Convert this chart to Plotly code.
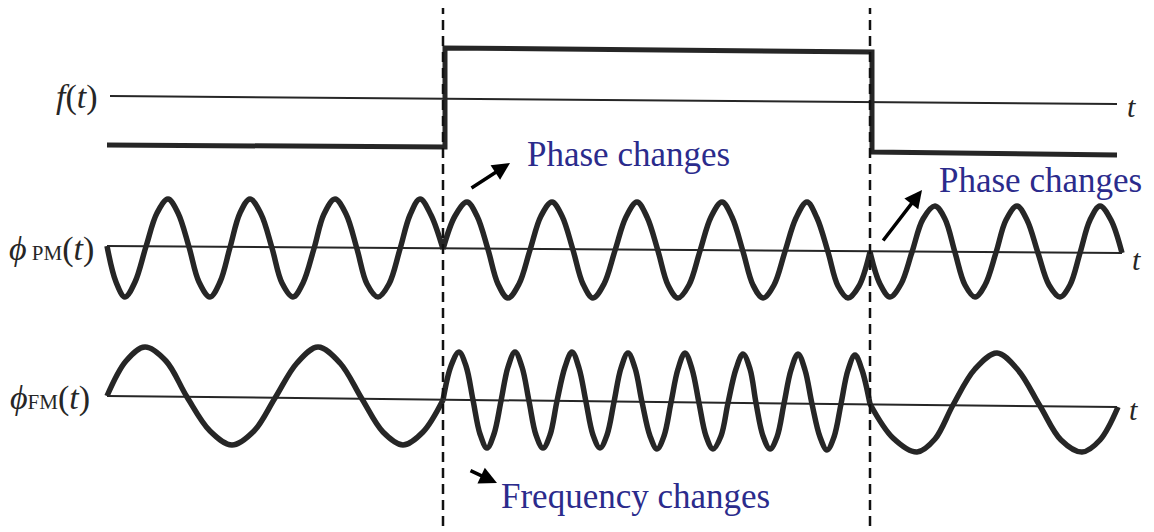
import plotly.graph_objects as go

# ---- data (pixel-like time/amplitude units) ----
# message f(t): square pulse
f_t = [107, 445, 445, 872, 872, 1117]
f_v = [145, 147, 48, 52, 152, 155]

# baselines (t axes)
f_axis_t = [110, 1117]
f_axis_v = [96, 104]
pm_axis_t = [107, 1122]
pm_axis_v = [246, 253]
fm_axis_t = [107, 1117]
fm_axis_v = [396, 407]

# PM waveform points, three segments (phase jumps at the edges)
pm1_t = [107, 116, 125, 135, 146, 157, 168, 178, 189, 199, 210, 220, 230, 240, 250, 261,
         272, 282, 293, 303, 314, 324, 335, 346, 357, 367, 378, 389, 400, 410, 420, 431, 443]
pm1_v = [246, 282, 297, 282, 246.5, 213, 199, 213, 247, 282, 297, 282, 247.5, 213, 199, 214,
         248, 283, 297, 283, 248.5, 214, 199, 214, 249, 284, 297, 284, 249, 215, 199, 215, 249]
pm2_t = [443, 455, 467, 477, 488, 498, 508, 519, 530, 541, 552, 562, 573, 583, 593, 604,
         615, 626, 637, 647, 658, 668, 678, 689, 700, 711, 722, 732, 743, 753, 763, 774,
         785, 796, 807, 817, 828, 838, 848, 859, 870]
pm2_v = [249, 216, 202, 216, 249.5, 284, 298, 284, 250, 216, 202, 216, 250, 284, 298, 284,
         250.5, 217, 202, 217, 251, 285, 298, 285, 251, 217, 202, 217, 251.5, 285, 298, 285,
         251.5, 218, 202, 218, 252, 286, 298, 286, 252]
pm3_t = [870, 880, 890, 901, 912, 923, 935, 945, 955, 965, 975, 985, 996, 1006, 1017, 1027,
         1038, 1049, 1060, 1070, 1080, 1090, 1100, 1111, 1122]
pm3_v = [252, 284, 297, 284, 252, 219, 206, 219, 252.5, 285, 297, 285, 252.5, 220, 206, 220,
         253, 285, 297, 285, 253, 220, 206, 220, 253]

# FM waveform points (continuous phase)
fm1_t = [107, 126, 145, 166, 187, 210, 232, 254, 275, 297, 318, 340, 362, 383, 403, 423, 443]
fm1_v = [396, 361, 347, 361, 397, 431, 445, 431, 398, 363, 347, 363, 399, 432, 445, 432, 400]
fm2_t = [443, 451, 459, 466, 473, 480, 487, 494, 501, 508, 515, 522, 529, 536, 543, 550,
         557, 565, 572, 579, 586, 593, 600, 607, 614, 621, 628, 635, 642, 650, 657, 664,
         671, 678, 685, 692, 699, 706, 713, 721, 728, 736, 743, 750, 756, 763, 770, 777,
         784, 791, 798, 805, 812, 820, 827, 834, 841, 848, 855, 862, 870]
fm2_v = [400, 366, 352, 366, 400, 434, 448, 434, 401, 367, 352, 367, 401, 435, 448, 435,
         401, 367, 352, 368, 402, 435, 448, 435, 402, 368, 353, 368, 402, 436, 449, 436,
         402.5, 369, 353, 369, 403, 436, 449, 436, 403, 369, 354, 369, 403, 436, 449, 437,
         403.5, 370, 354, 370, 404, 437, 450, 437, 404, 370, 355, 370, 404]
fm3_t = [870, 893, 917, 935, 953, 975, 997, 1018, 1040, 1061, 1082, 1100, 1118]
fm3_v = [404, 438, 452, 439, 405, 369, 353, 370, 406, 440, 452, 440, 407]

# dashed markers of the pulse edges
edge_t = [443, 870]

# annotations
notes = ["Phase changes", "Phase changes", "Frequency changes"]
note_t = [628, 1040, 635]
note_v = [154, 180, 496]
arrow_tail_t = [470, 882, 469]
arrow_tail_v = [189, 242, 470]
arrow_head_t = [510, 922, 497]
arrow_head_v = [163, 190, 483]

# ---- figure ----
INK = "#262626"
NAVY = "#2b2b8c"
SERIF = "Liberation Serif, Times New Roman, serif"
PAGE_MARGIN = 8  # default body margin of the html page

fig = go.Figure()

def line(t, v, w, shape="linear"):
    fig.add_trace(go.Scatter(x=t, y=v, mode="lines",
                             line=dict(color=INK, width=w, shape=shape, smoothing=1.0),
                             hoverinfo="skip", showlegend=False))

for t, v in [(f_axis_t, f_axis_v), (pm_axis_t, pm_axis_v), (fm_axis_t, fm_axis_v)]:
    line(t, v, 2)
line(f_t, f_v, 5)
for t, v in [(pm1_t, pm1_v), (pm2_t, pm2_v), (pm3_t, pm3_v),
             (fm1_t, fm1_v), (fm2_t, fm2_v), (fm3_t, fm3_v)]:
    line(t, v, 5.5, "spline")

for x in edge_t:
    fig.add_shape(type="line", x0=x, x1=x, y0=4, y1=540, xref="x", yref="y",
                  line=dict(color="#111111", width=2.5, dash="10px,6px"))

# signal labels
labels = [("<i>f</i>(<i>t</i>)", 77, 97),
          ("<i>ϕ</i><span style='font-size:21px'> PM</span>(<i>t</i>)", 51, 249),
          ("<i>ϕ</i><span style='font-size:21px'>FM</span>(<i>t</i>)", 50, 398)]
for txt, x, y in labels:
    fig.add_annotation(x=x, y=y, text=txt, showarrow=False, xref="x", yref="y",
                       font=dict(family=SERIF, size=34, color=INK))
for x, y in [(1131, 106), (1136, 259), (1133, 409)]:
    fig.add_annotation(x=x, y=y, text="<i>t</i>", showarrow=False, xref="x", yref="y",
                       font=dict(family=SERIF, size=30, color=INK))

for i in range(len(notes)):
    fig.add_annotation(x=note_t[i], y=note_v[i], text=notes[i], showarrow=False,
                       xref="x", yref="y", font=dict(family=SERIF, size=35, color=NAVY))
    fig.add_annotation(x=arrow_head_t[i], y=arrow_head_v[i], ax=arrow_tail_t[i], ay=arrow_tail_v[i],
                       xref="x", yref="y", axref="x", ayref="y", text="", showarrow=True,
                       arrowhead=2, arrowsize=1, arrowwidth=3.5, arrowcolor="#000000")

fig.update_layout(width=1154 - PAGE_MARGIN, height=532 - PAGE_MARGIN,
                  margin=dict(l=0, r=0, t=0, b=0),
                  paper_bgcolor="white", plot_bgcolor="white",
                  xaxis=dict(range=[PAGE_MARGIN, 1154], visible=False, fixedrange=True),
                  yaxis=dict(range=[532, PAGE_MARGIN], visible=False, fixedrange=True))

fig.write_html("out.html")
